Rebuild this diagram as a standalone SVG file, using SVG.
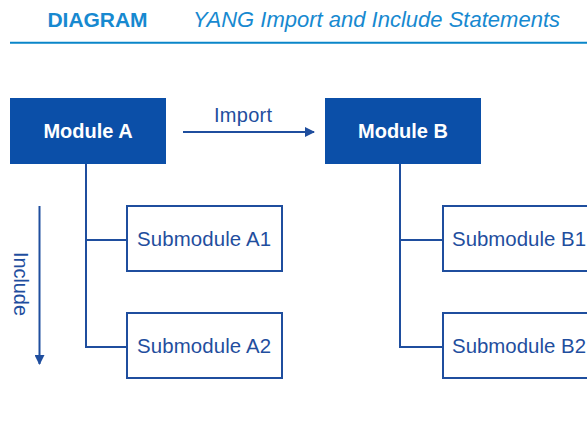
<svg xmlns="http://www.w3.org/2000/svg" width="587" height="432" viewBox="0 0 587 432">
<defs>
<style>
.hdr{font-family:"Liberation Sans",Arial,sans-serif;fill:#1789d0}
.mod rect{fill:#0b4fa8}
.mod text{font-family:"Liberation Sans",Arial,sans-serif;font-size:20px;font-weight:bold;fill:#ffffff;text-anchor:middle}
.sub rect{fill:#ffffff;stroke:#1f4e9e;stroke-width:2}
.sub text{font-family:"Liberation Sans",Arial,sans-serif;font-size:20.4px;fill:#1f4e9e}
.ln{fill:none;stroke:#1f4e9e;stroke-width:2}
.lbl{font-family:"Liberation Sans",Arial,sans-serif;font-size:20px;fill:#1f4e9e}
</style>
<marker id="ah" markerWidth="10" markerHeight="10" refX="9" refY="5" orient="auto" markerUnits="userSpaceOnUse">
<path d="M0,0 L10,5 L0,10 Z" fill="#1f4e9e"/>
</marker>
</defs>
<rect width="587" height="432" fill="#ffffff"/>
<g id="header">
<text class="hdr" x="47.5" y="27.3" font-size="21" font-weight="bold" textLength="100">DIAGRAM</text>
<text class="hdr" x="193" y="27.3" font-size="22" font-style="italic" textLength="367">YANG Import and Include Statements</text>
<line x1="10" y1="42.7" x2="587" y2="42.7" stroke="#0a86c9" stroke-width="2"/>
</g>
<g id="connectors">
<path class="ln" d="M86,164 V347 H127 M86,240 H127"/>
<path class="ln" d="M400,164 V347 H443 M400,240 H443"/>
<line class="ln" x1="183" y1="132" x2="314" y2="132" marker-end="url(#ah)"/>
<line class="ln" x1="39.5" y1="206" x2="39.5" y2="364" marker-end="url(#ah)"/>
<text class="lbl" x="243" y="122" text-anchor="middle" textLength="58">Import</text>
<text class="lbl" transform="translate(13.5,284) rotate(90)" text-anchor="middle" textLength="64">Include</text>
</g>
<g id="moduleA" class="mod">
<rect x="10" y="98" width="156" height="66"/>
<text x="88" y="138.3">Module A</text>
</g>
<g id="moduleB" class="mod">
<rect x="325" y="98" width="156" height="66"/>
<text x="403" y="138.3">Module B</text>
</g>
<g id="subA1" class="sub">
<rect x="127" y="206" width="155" height="65"/>
<text x="137" y="245.5" textLength="134">Submodule A1</text>
</g>
<g id="subA2" class="sub">
<rect x="127" y="313" width="155" height="65"/>
<text x="137" y="352.5" textLength="134">Submodule A2</text>
</g>
<g id="subB1" class="sub">
<rect x="443" y="206" width="155" height="65"/>
<text x="452" y="245.5" textLength="134">Submodule B1</text>
</g>
<g id="subB2" class="sub">
<rect x="443" y="313" width="155" height="65"/>
<text x="452" y="352.5" textLength="134">Submodule B2</text>
</g>
</svg>
